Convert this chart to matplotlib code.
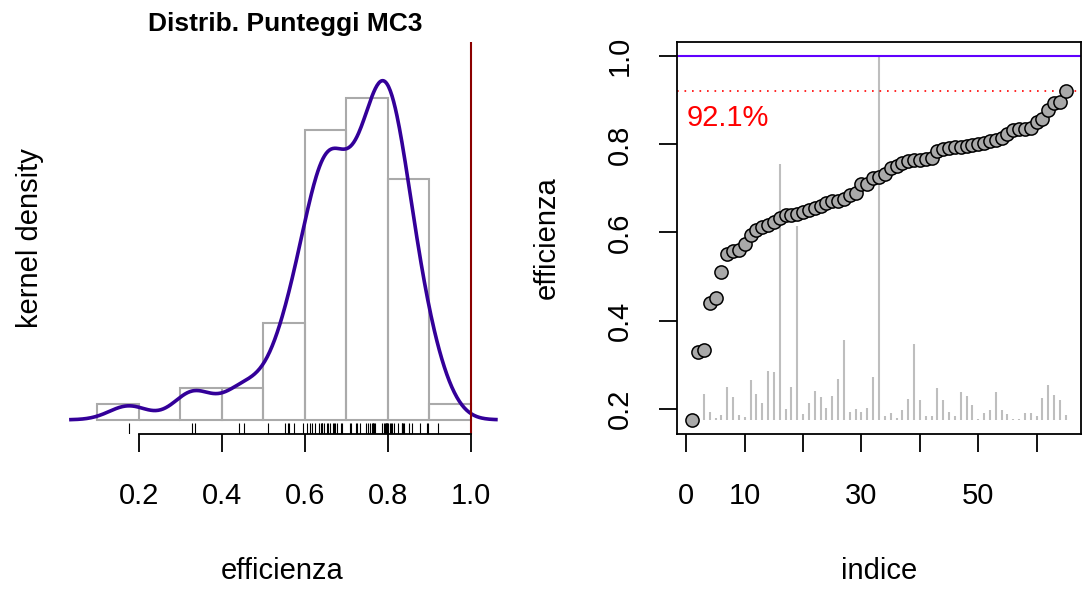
import numpy as np
import matplotlib
matplotlib.use("Agg")
import matplotlib.pyplot as plt

# punteggi di efficienza (ordinati)
efficienza = [0.175, 0.328, 0.334, 0.440, 0.452, 0.511, 0.552, 0.558, 0.561, 0.573,
              0.595, 0.606, 0.612, 0.618, 0.624, 0.634, 0.639, 0.640, 0.642, 0.647,
              0.652, 0.656, 0.660, 0.667, 0.671, 0.672, 0.677, 0.686, 0.690, 0.709,
              0.711, 0.724, 0.726, 0.732, 0.747, 0.751, 0.757, 0.762, 0.764, 0.765,
              0.766, 0.768, 0.785, 0.790, 0.792, 0.794, 0.795, 0.797, 0.798, 0.801,
              0.804, 0.808, 0.810, 0.815, 0.823, 0.833, 0.834, 0.836, 0.838, 0.851,
              0.857, 0.877, 0.895, 0.896, 0.921]
# altezza delle linee grigie (riferimenti come peer)
riferimenti = [0.175, 0.175, 0.234, 0.192, 0.179, 0.186, 0.249, 0.226, 0.185, 0.181,
               0.265, 0.233, 0.214, 0.285, 0.283, 0.755, 0.199, 0.249, 0.614, 0.188,
               0.213, 0.241, 0.226, 0.202, 0.228, 0.268, 0.356, 0.192, 0.199, 0.192,
               0.202, 0.271, 1.000, 0.183, 0.190, 0.180, 0.198, 0.222, 0.348, 0.220,
               0.183, 0.184, 0.248, 0.219, 0.192, 0.183, 0.239, 0.228, 0.209, 0.177,
               0.190, 0.198, 0.239, 0.198, 0.188, 0.177, 0.177, 0.190, 0.190, 0.183,
               0.224, 0.255, 0.232, 0.220, 0.186]
massimo = 0.921
classi = [0.1, 0.2, 0.3, 0.4, 0.5, 0.6, 0.7, 0.8, 0.9, 1.0]
tick_sx = [0.2, 0.4, 0.6, 0.8, 1.0]
tick_dx = [0, 10, 20, 30, 40, 50, 60]
etich_dx = ["0", "10", "", "30", "", "50", ""]
tick_y = [0.2, 0.4, 0.6, 0.8, 1.0]

plt.rcParams["font.family"] = ["Liberation Sans", "DejaVu Sans"]

eff = np.array(efficienza)
n = len(eff)

# densita' kernel gaussiana, bw.nrd0 come in R
q75, q25 = np.percentile(eff, [75, 25])
bw = 0.9 * min(eff.std(ddof=1), (q75 - q25) / 1.34) * n ** -0.2
xs = np.linspace(eff.min() - 3 * bw, eff.max() + 3 * bw, 512)
dens = np.exp(-0.5 * ((xs[:, None] - eff[None, :]) / bw) ** 2).sum(1) / (n * bw * np.sqrt(2 * np.pi))

W, H = 1084, 592
fig = plt.figure(figsize=(W / 100, H / 100), dpi=100)
top, bot = 41.7, 434.3

# --- pannello sinistro
ax1 = fig.add_axes([64 / W, 1 - bot / H, 437 / W, (bot - top) / H])
ax1.hist(eff, bins=classi, density=True, fill=False, edgecolor="#AAAAAA", linewidth=1.5)
ax1.plot(xs, dens, color="#330099", lw=2.6)
ax1.axvline(1.0, color="#8B0000", lw=1.5)
ax1.vlines(eff, 0, 0.03, transform=ax1.get_xaxis_transform(), color="black", lw=0.8)
ax1.set_xlim(0.0193, 1.0723)
ax1.set_ylim(-0.139, 3.617)
for s in ["top", "right", "left"]:
    ax1.spines[s].set_visible(False)
ax1.spines["bottom"].set_bounds(0.2, 1.0)
ax1.spines["bottom"].set_linewidth(1.3)
ax1.set_yticks([])
ax1.set_xticks(tick_sx)
ax1.set_xticklabels(["0.2", "0.4", "0.6", "0.8", "1.0"])
ax1.tick_params(axis="x", direction="out", length=13, width=1.3, labelsize=21, pad=21)

# --- pannello destro
ax2 = fig.add_axes([677.3 / W, 1 - bot / H, 403.4 / W, (bot - top) / H])
idx = np.arange(1, n + 1)
ax2.vlines(idx, eff.min(), riferimenti, color="#BEBEBE", lw=1.5)
ax2.axhline(1.0, color="#6000FF", lw=1.5)
ax2.axhline(massimo, color="red", lw=1.2, ls=(0, (1, 3.5)))
ax2.plot(idx, eff, "o", ms=9.5, mfc="#A9A9A9", mec="black", mew=1.1)
ax2.text(0, 0.86, "%.1f%%" % (massimo * 100), color="red", fontsize=21, ha="left", va="center")
ax2.set_xlim(1 - 0.04 * (n - 1), n + 0.04 * (n - 1))
lo, hi = eff.min(), 1.0
ax2.set_ylim(lo - 0.04 * (hi - lo), hi + 0.04 * (hi - lo))
ax2.set_xticks(tick_dx)
ax2.set_xticklabels(etich_dx)
ax2.set_yticks(tick_y)
ax2.set_yticklabels(["0.2", "0.4", "0.6", "0.8", "1.0"], rotation=90, va="center")
ax2.tick_params(axis="x", direction="out", length=13, width=1.3, labelsize=21, pad=21)
ax2.tick_params(axis="y", direction="out", length=13, width=1.3, labelsize=21, pad=18)
for s in ax2.spines.values():
    s.set_linewidth(1.3)

# titoli ed etichette
fig.text(285.5 / W, 1 - 24 / H, "Distrib. Punteggi MC3", fontsize=19, fontweight="bold",
         ha="center", va="center")
fig.text(282.5 / W, 1 - 571 / H, "efficienza", fontsize=21, ha="center", va="center")
fig.text(879 / W, 1 - 571 / H, "indice", fontsize=21, ha="center", va="center")
fig.text(30 / W, 1 - 238 / H, "kernel density", fontsize=21, ha="center", va="center", rotation=90)
fig.text(547 / W, 1 - 238 / H, "efficienza", fontsize=21, ha="center", va="center", rotation=90)

fig.savefig("out.png", dpi=100)
